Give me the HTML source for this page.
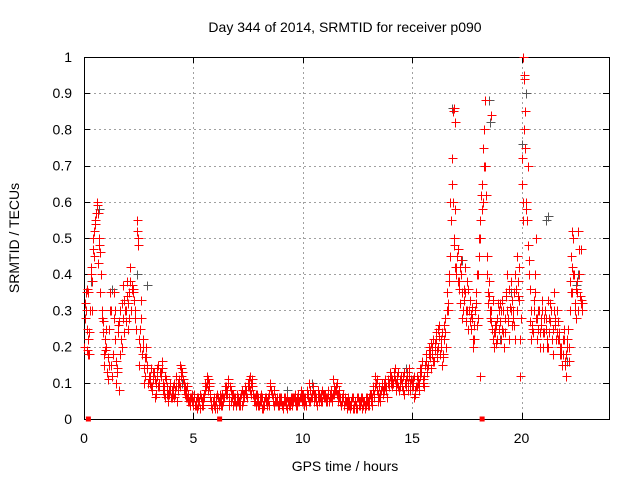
<!DOCTYPE html>
<html><head><meta charset="utf-8"><style>
body{margin:0;background:#fff}
svg{display:block;font-family:"Liberation Sans",sans-serif}
</style></head><body>
<svg id="c" width="640" height="480"></svg>
<script>
const xTicks=[0,5,10,15,20];
const yTicks=[0,0.1,0.2,0.3,0.4,0.5,0.6,0.7,0.8,0.9,1];
const yTickLabels=["0","0.1","0.2","0.3","0.4","0.5","0.6","0.7","0.8","0.9","1"];
// red series A: samples every 0.1 h starting at 0.0 h
const redA=[.20,.30,.35,.40,.47,.55,.60,.50,.28,.15,
.20,.11,.35,.12,.30,.14,.27,.22,.37,.30,
.25,.42,.37,.33,.55,.15,.33,.20,.12,.15,
.10,.08,.13,.07,.15,.12,.10,.06,.09,.07,
.06,.10,.12,.08,.15,.13,.09,.06,.05,.06,
.05,.04,.06,.03,.05,.07,.12,.10,.04,.05,
.04,.03,.05,.07,.06,.09,.11,.08,.04,.06,
.07,.05,.04,.06,.08,.10,.12,.09,.06,.05,
.04,.05,.03,.06,.05,.10,.07,.04,.05,.06,
.05,.04,.06,.03,.05,.04,.06,.05,.07,.06,
.05,.06,.08,.10,.07,.05,.06,.08,.06,.05,
.07,.06,.05,.08,.11,.09,.07,.06,.05,.04,
.03,.05,.04,.06,.05,.03,.04,.06,.05,.04,
.05,.07,.09,.12,.08,.06,.10,.08,.09,.11,
.13,.09,.14,.10,.08,.11,.12,.09,.10,.08,
.10,.06,.12,.08,.14,.11,.15,.13,.17,.20,
.16,.22,.25,.20,.18,.28,.35,.40,.65,.48,
.40,.47,.32,.28,.42,.38,.30,.25,.20,.35,
.28,.55,.65,.80,.45,.38,.30,.22,.24,.28,
.32,.25,.20,.35,.28,.38,.30,.22,.45,.33,
.72,.95,.60,.48,.27,.26,.35,.22,.30,.28,
.20,.25,.33,.27,.22,.35,.30,.24,.20,.18,
.15,.22,.30,.35,.40,.28,.30,.33];
const redAStart=0.0, redAStep=0.1;
// red series B: samples every 0.1 h starting at 0.05 h
const redB=[.32,.25,.18,.30,.45,.57,.43,.35,.27,.22,
.13,.25,.15,.35,.10,.26,.18,.32,.24,.38,
.35,.30,.36,.28,.48,.25,.18,.10,.17,.12,
.14,.11,.06,.12,.09,.16,.07,.11,.05,.08,
.09,.07,.05,.11,.14,.08,.06,.07,.04,.05,
.07,.03,.05,.06,.04,.10,.08,.06,.03,.04,
.06,.05,.04,.05,.08,.07,.04,.06,.05,.04,
.05,.06,.07,.09,.06,.11,.07,.05,.04,.06,
.06,.03,.05,.04,.07,.08,.05,.06,.04,.05,
.04,.06,.05,.04,.06,.05,.07,.04,.05,.07,
.06,.04,.07,.05,.09,.06,.04,.05,.07,.06,
.05,.08,.06,.05,.07,.10,.06,.04,.06,.05,
.04,.03,.06,.04,.03,.05,.06,.04,.03,.05,
.04,.06,.07,.10,.05,.07,.08,.11,.06,.09,
.10,.12,.08,.13,.11,.09,.07,.12,.14,.11,
.09,.07,.10,.12,.16,.09,.18,.20,.14,.22,
.19,.17,.26,.15,.22,.20,.30,.60,.85,.58,
.45,.38,.44,.36,.30,.25,.33,.28,.22,.40,
.50,.62,.75,.88,.35,.30,.25,.20,.26,.30,
.22,.30,.28,.40,.22,.33,.26,.36,.38,.12,
.60,.85,.55,.40,.22,.30,.50,.25,.20,.33,
.28,.22,.24,.30,.18,.26,.22,.20,.15,.22,
.12,.20,.45,.50,.32,.38,.47,.30];
const redBStart=0.05, redBStep=0.1;
// red series C: samples every 0.1 h starting at 0.025 h
const redC=[.28,.36,.24,.42,.50,.54,.57,.46,.30,.18,
.25,.15,.30,.18,.22,.13,.30,.20,.33,.27,
.32,.38,.35,.30,.52,.22,.28,.14,.20,.10,
.12,.09,.11,.14,.10,.13,.08,.12,.07,.10,
.08,.06,.09,.10,.12,.11,.07,.09,.06,.07,
.06,.05,.04,.07,.06,.08,.10,.09,.05,.06,
.05,.06,.07,.04,.09,.08,.06,.05,.07,.05,
.06,.04,.08,.07,.07,.09,.10,.07,.05,.07,
.05,.06,.04,.05,.06,.09,.06,.05,.06,.04,
.06,.05,.04,.05,.04,.06,.05,.06,.05,.08,
.07,.05,.06,.08,.06,.07,.05,.07,.05,.07,
.06,.05,.07,.06,.09,.08,.05,.05,.07,.06,
.05,.04,.05,.03,.04,.06,.05,.03,.04,.06,
.06,.05,.08,.09,.07,.05,.09,.10,.08,.10,
.12,.10,.11,.12,.09,.10,.13,.11,.08,.10,
.11,.08,.09,.10,.13,.12,.16,.15,.19,.18,
.21,.19,.23,.22,.17,.24,.32,.45,.72,.50,
.42,.36,.40,.30,.35,.30,.27,.31,.26,.32,
.40,.50,.60,.70,.40,.34,.27,.24,.21,.32,
.27,.33,.24,.30,.36,.30,.28,.40,.34,.22,
.65,.80,.58,.44,.30,.24,.40,.28,.24,.30,
.24,.28,.20,.32,.25,.28,.24,.22,.18,.25,
.18,.25,.38,.42,.30,.35,.40,.32];
const redCStart=0.025, redCStep=0.1;
// red series D: samples every 0.1 h starting at 0.075 h
const redD=[.35,.22,.30,.38,.52,.59,.48,.40,.24,.19,
.17,.30,.12,.28,.16,.24,.22,.28,.30,.34,
.28,.36,.33,.25,.50,.20,.22,.17,.14,.11,
.09,.13,.10,.09,.13,.14,.09,.07,.08,.06,
.07,.08,.10,.09,.13,.10,.08,.05,.06,.04,
.04,.06,.05,.04,.06,.09,.11,.07,.05,.03,
.07,.04,.06,.06,.07,.10,.09,.07,.06,.05,
.04,.07,.05,.08,.09,.08,.11,.06,.07,.04,
.07,.04,.06,.05,.04,.07,.08,.05,.04,.06,
.03,.05,.06,.05,.05,.06,.04,.05,.06,.05,
.04,.07,.05,.06,.08,.07,.06,.06,.08,.07,
.06,.07,.06,.07,.08,.07,.08,.06,.04,.05,
.06,.04,.03,.05,.06,.04,.05,.05,.06,.04,
.07,.04,.06,.11,.09,.08,.07,.09,.10,.12,
.11,.13,.10,.09,.12,.08,.10,.13,.12,.09,
.12,.09,.11,.14,.10,.15,.14,.18,.21,.16,
.24,.20,.18,.24,.26,.30,.38,.55,.60,.42,
.38,.42,.35,.33,.27,.36,.29,.22,.30,.26,
.45,.58,.70,.62,.32,.28,.33,.26,.22,.25,
.30,.24,.34,.27,.31,.26,.35,.30,.42,.28,
.55,.75,.48,.36,.25,.33,.28,.30,.26,.24,
.30,.20,.28,.22,.30,.22,.27,.18,.22,.16,
.20,.16,.35,.40,.36,.30,.34,.32];
const redDStart=0.075, redDStep=0.1;
const redExtraT=[0.15,0.2,1.6,16.9,16.95,18.1,18.6,20.05,20.1,20.3,22.3,22.6,22.7];
const redExtraV=[.19,.18,.08,.86,.82,.12,.84,1.0,.94,.70,.52,.52,.47];
const grayT=[0.3,0.7,1.3,2.4,2.9,4.5,9.3,10.4,14.7,16.8,16.85,17.3,18.5,18.55,19.0,19.5,20.0,20.2,21.1,21.2,21.6,22.1,22.5,22.6];
const grayV=[.38,.58,.36,.40,.37,.10,.08,.10,.14,.86,.85,.44,.88,.82,.22,.35,.76,.90,.55,.56,.30,.16,.37,.40];
const gapT=[0.2,6.2,18.2];

const L=84,R=609,T=57,B=419,XMAX=24;
const X=t=>L+t/XMAX*(R-L);
const Y=v=>B-v*(B-T);
const svg=document.getElementById('c');
const NS='http://www.w3.org/2000/svg';
function mk(tag,a,parent){const e=document.createElementNS(NS,tag);for(const k in a)e.setAttribute(k,a[k]);(parent||svg).appendChild(e);return e;}

const grid=mk('g',{stroke:'#a0a0a0','stroke-dasharray':'2,3','stroke-width':1});


xTicks.forEach(t=>{if(t>0){const x=Math.round(X(t))+.5;mk('line',{x1:x,x2:x,y1:T,y2:B},grid);}});
yTicks.forEach(v=>{if(v>0&&v<1){const y=Math.round(Y(v))+.5;mk('line',{x1:L,x2:R,y1:y,y2:y},grid);}});

const ax=mk('g',{stroke:'#000','stroke-width':1,fill:'none'});


mk('rect',{x:L+.5,y:T+.5,width:R-L,height:B-T},ax);
yTicks.forEach(v=>{const y=Math.round(Y(v))+.5;mk('line',{x1:L,x2:L+6,y1:y,y2:y},ax);mk('line',{x1:R-6,x2:R,y1:y,y2:y},ax);});
xTicks.forEach(t=>{const x=Math.round(X(t))+.5;mk('line',{x1:x,x2:x,y1:B,y2:B-6},ax);mk('line',{x1:x,x2:x,y1:T,y2:T+6},ax);});

yTicks.forEach((v,i)=>{const e=mk('text',{x:72,y:Y(v)+5,'text-anchor':'end','font-size':14,fill:'#000'});e.textContent=yTickLabels[i];

});
xTicks.forEach(t=>{const e=mk('text',{x:X(t),y:443,'text-anchor':'middle','font-size':14,fill:'#000'});e.textContent=String(t);

});

function plus(g,t,v){const x=Math.round(X(t))+.5,y=Math.round(Y(v))+.5;mk('path',{d:`M${x-4} ${y}H${x+5}M${x} ${y-4}V${y+5}`},g);}
const gg=mk('g',{stroke:'#555','stroke-width':1});


grayT.forEach((t,i)=>plus(gg,t,grayV[i]));
const rg=mk('g',{stroke:'#ff0000','stroke-width':1});


redA.forEach((v,i)=>plus(rg,redAStart+i*redAStep,v));
redB.forEach((v,i)=>plus(rg,redBStart+i*redBStep,v));
redC.forEach((v,i)=>plus(rg,redCStart+i*redCStep,v));
redD.forEach((v,i)=>plus(rg,redDStart+i*redDStep,v));
redExtraT.forEach((t,i)=>plus(rg,t,redExtraV[i]));
gapT.forEach(t=>{const r=mk('rect',{x:X(t)-2.5,y:B-2.5,width:5,height:5,fill:'#ff0000',stroke:'none'});

});

const tt=mk('text',{x:345,y:32,'text-anchor':'middle','font-size':14,fill:'#000'});tt.textContent='Day 344 of 2014, SRMTID for receiver p090';


const xt=mk('text',{x:345,y:471,'text-anchor':'middle','font-size':14,fill:'#000'});xt.textContent='GPS time / hours';


const yt=mk('text',{x:0,y:0,'text-anchor':'middle','font-size':14,fill:'#000',transform:'translate(19,238) rotate(-90)'});yt.textContent='SRMTID / TECUs';


</script>
</body></html>
